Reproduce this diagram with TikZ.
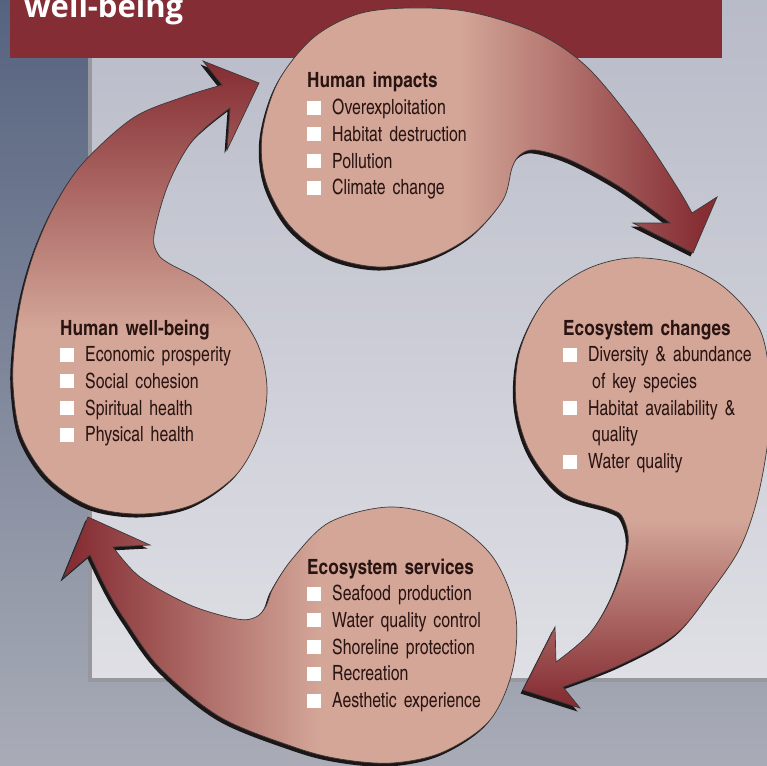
\documentclass[tikz,border=0pt]{standalone}
\usepackage{fontspec}
\newfontfamily\condfont{texgyreheroscn}[Extension=.otf, UprightFont=*-regular, BoldFont=*-bold,
  UprightFeatures={FakeStretch=0.92}, WordSpace=0.85]
\newfontfamily\bannerfont{Open Sans}
\usetikzlibrary{positioning}

\definecolor{bgtop}{HTML}{56637F}
\definecolor{bgbot}{HTML}{A9ACB7}
\definecolor{paneltop}{HTML}{B7BAC7}
\definecolor{panelbot}{HTML}{DFDFE5}
\definecolor{panelline}{HTML}{97989E}
\definecolor{bannerc}{HTML}{842D34}
\definecolor{headc}{HTML}{D3A698}
\definecolor{tailc}{HTML}{862E34}
\definecolor{outlinec}{HTML}{3C3838}
\definecolor{shadowc}{HTML}{1C1616}
\definecolor{inkc}{HTML}{2A1412}

\tikzset{
  blob/.style={draw=outlinec, line width=0.7pt},
  blobshadow/.style={fill=shadowc, xshift=-2.5pt, yshift=-3.5pt},
  blurb/.style={anchor=base west, inner sep=0pt, text width=230pt, align=left,
    text=inkc, font=\condfont\fontsize{21}{26.7}\selectfont},
}
\newcommand\sqbox{\textcolor{white}{\rule{14pt}{14pt}}\hspace{11pt}}
\newcommand\blurbhead[1]{\textbf{#1}}

% outlines of the four comma shapes
\newcommand\impactsline{plot[smooth, tension=0.55] coordinates {(670,-223) (620,-187) (570,-160) (535,-150) (520,-155) (512,-168) (503,-200) (472,-235) (430,-258) (380,-267) (330,-256) (290,-226) (266,-182) (262,-135) (278,-82) (313,-38) (358,-14) (410,-8) (470,-12) (537,-33) (587,-67) (637,-127) (677,-187) (692,-213)} -- (717,-197) -- (693,-253) -- (633,-223) -- cycle}
\newcommand\changesline{plot[smooth, tension=0.55] coordinates {(556,-662) (590,-633) (614,-592) (628,-545) (623,-518) (610,-509) (563,-493) (530,-452) (516,-403) (520,-350) (545,-300) (585,-270) (630,-258) (680,-264) (725,-288) (760,-330) (770,-385) (768,-440) (757,-500) (740,-548) (712,-590) (676,-634) (620,-665) (563,-687)} -- (580,-708) -- (523,-690) -- (555,-627) -- cycle}
\newcommand\servicesline{plot[smooth, tension=0.55] coordinates {(113,-547) (140,-577) (190,-605) (237,-619) (256,-617) (266,-606) (273,-588) (293,-558) (330,-522) (390,-507) (447,-520) (492,-556) (515,-610) (513,-668) (490,-720) (443,-752) (392,-763) (340,-759) (294,-747) (220,-717) (160,-668) (125,-620) (107,-590) (90,-555)} -- (63,-578) -- (88,-517) -- (150,-545) -- cycle}
\newcommand\wellbeingline{plot[smooth, tension=0.55] coordinates {(230,-108) (193,-140) (168,-185) (154,-235) (158,-254) (170,-264) (200,-280) (233,-307) (258,-345) (267,-388) (260,-432) (236,-475) (192,-505) (140,-514) (90,-506) (48,-478) (21,-435) (13,-385) (15,-340) (22,-295) (35,-250) (55,-205) (83,-163) (133,-118) (183,-97) (222,-85)} -- (203,-61) -- (259,-83) -- (227,-150) -- cycle}

\begin{document}
\begin{tikzpicture}[x=1pt, y=1pt]
  \useasboundingbox (0,0) rectangle (767,-765);

  % backdrop, panel and banner
  \shade[top color=bgtop, bottom color=bgbot] (0,0) rectangle (767,-765);
  \shadedraw[top color=paneltop, bottom color=panelbot, draw=panelline, line width=4pt] (90,20) rectangle (800,-680);
  \fill[bannerc] (10,0) rectangle (722,-58);
  \node[anchor=base west, inner sep=0pt, text=white, font=\bannerfont\bfseries\fontsize{31}{32}\selectfont] (title) at (24,-18) {well-being};

  % human impacts
  \fill[blobshadow] \impactsline;
  \begin{scope}
    \clip \impactsline;
    \fill[headc] (250,10) rectangle (460,-280);
    \shade[left color=headc, right color=tailc] (460,10) rectangle (700,-280);
    \fill[tailc] (700,10) rectangle (730,-280);
  \end{scope}
  \draw[blob] \impactsline;

  % ecosystem changes
  \fill[blobshadow] \changesline;
  \begin{scope}
    \clip \changesline;
    \fill[headc] (500,-250) rectangle (780,-520);
    \shade[top color=headc, bottom color=tailc] (500,-520) rectangle (780,-700);
    \fill[tailc] (500,-700) rectangle (780,-720);
  \end{scope}
  \draw[blob] \changesline;

  % ecosystem services
  \fill[blobshadow] \servicesline;
  \begin{scope}
    \clip \servicesline;
    \fill[headc] (320,-500) rectangle (530,-770);
    \shade[left color=tailc, right color=headc] (75,-500) rectangle (320,-770);
    \fill[tailc] (50,-500) rectangle (75,-770);
  \end{scope}
  \draw[blob] \servicesline;

  % human well-being
  \fill[blobshadow] \wellbeingline;
  \begin{scope}
    \clip \wellbeingline;
    \fill[headc] (0,-330) rectangle (280,-520);
    \shade[top color=tailc, bottom color=headc] (0,-65) rectangle (280,-330);
    \fill[tailc] (0,-50) rectangle (280,-65);
  \end{scope}
  \draw[blob] \wellbeingline;

  % the texts
  \node[blurb] (impacts) at (307,-88) {\blurbhead{Human impacts}\\
    \sqbox Overexploitation\\ \sqbox Habitat destruction\\ \sqbox Pollution\\ \sqbox Climate change};
  \node[blurb] (changes) at (563,-335) {\blurbhead{Ecosystem changes}\\
    \sqbox Diversity \& abundance\\ \hspace*{29pt}of key species\\ \sqbox Habitat availability \&\\ \hspace*{29pt}quality\\ \sqbox Water quality};
  \node[blurb] (services) at (307,-574) {\blurbhead{Ecosystem services}\\
    \sqbox Seafood production\\ \sqbox Water quality control\\ \sqbox Shoreline protection\\ \sqbox Recreation\\ \sqbox Aesthetic experience};
  \node[blurb] (wellbeing) at (60,-335) {\blurbhead{Human well-being}\\
    \sqbox Economic prosperity\\ \sqbox Social cohesion\\ \sqbox Spiritual health\\ \sqbox Physical health};
\end{tikzpicture}
\end{document}
